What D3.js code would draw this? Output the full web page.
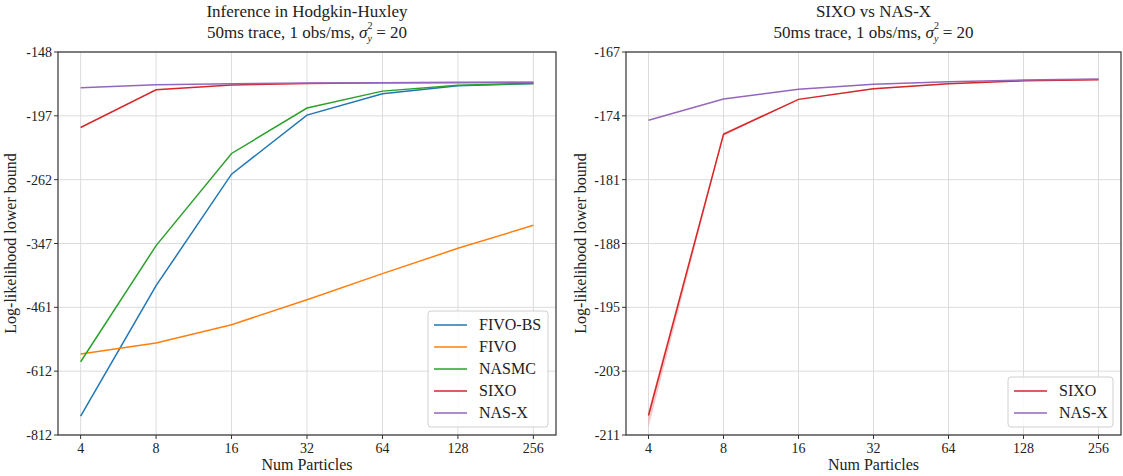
<!DOCTYPE html>
<html>
<head>
<meta charset="utf-8">
<script src="https://cdn.jsdelivr.net/npm/d3@7"></script>
<style>
  body { margin: 0; background: #fff; }
</style>
</head>
<body>
<div id="chart"></div>
<script>
// ---- data ----
const particles = [4, 8, 16, 32, 64, 128, 256];

// left panel: Inference in Hodgkin-Huxley
const fivoBS = [-747.4, -418.7, -255.3, -196.4, -178.6, -172.5, -170.7];
const fivo   = [-567.3, -540.2, -498.0, -445.7, -397.0, -354.8, -320.3];
const nasmc  = [-587.0, -350.6, -232.9, -190.4, -176.6, -172.1, -170.7];
const sixoL  = [-207.5, -175.5, -171.9, -170.7, -170.1, -169.9, -169.9];
const nasxL  = [-173.9, -171.6, -170.9, -170.4, -170.1, -169.9, -169.7];
const leftYTicks = ["-148", "-197", "-262", "-347", "-461", "-612", "-812"];

// right panel: SIXO vs NAS-X
const sixoR    = [-208.5, -175.6, -171.9, -170.78, -170.26, -169.97, -169.85];
const sixoRLo  = [-210.0, -175.75, -171.95, -170.83, -170.3, -170.0, -169.88];
const sixoRHi  = [-207.9, -175.45, -171.85, -170.73, -170.22, -169.94, -169.82];
const nasxR    = [-174.1, -171.86, -170.85, -170.33, -170.06, -169.88, -169.78];
const rightYTicks = ["-167", "-174", "-181", "-188", "-195", "-203", "-211"];

const colors = {
    "FIVO-BS": "#1f77b4", "FIVO": "#ff7f0e", "NASMC": "#2ca02c",
    "SIXO": "#d62728", "NAS-X": "#9467bd"
};

const FONT = "'Liberation Serif', 'DejaVu Serif', serif";

const width = 1123, height = 476;
const svg = d3.select("#chart").append("svg")
    .attr("width", width)
    .attr("height", height)
    .style("display", "block")
    .attr("font-family", FONT);

function drawPanel(opt) {
    let g = svg.append("g");
    let x0 = opt.left, x1 = opt.right, y0 = 52, y1 = 435;

    // x: log2 with 5% padding on each side
    let pad = Math.pow(2, 0.3);
    let x = d3.scaleLog().base(2)
        .domain([particles[0] / pad, particles[particles.length - 1] * pad])
        .range([x0, x1]);

    // y: log of the magnitude (bounds are negative)
    let y = d3.scaleLog().domain(opt.yDomain).range([y0, y1]);
    let yTickVals = opt.yTicks.map((t, i) =>
        opt.yDomain[0] * Math.pow(opt.yDomain[1] / opt.yDomain[0], i / (opt.yTicks.length - 1)));

    // grid
    g.selectAll(".vgrid").data(particles).enter().append("line")
        .attr("x1", d => x(d)).attr("x2", d => x(d))
        .attr("y1", y0).attr("y2", y1)
        .attr("stroke", "#dcdcdc").attr("stroke-width", 1);
    g.selectAll(".hgrid").data(yTickVals).enter().append("line")
        .attr("x1", x0).attr("x2", x1)
        .attr("y1", d => y(d)).attr("y2", d => y(d))
        .attr("stroke", "#dcdcdc").attr("stroke-width", 1);

    // band
    if (opt.band) {
        let area = d3.area()
            .x((d, i) => x(particles[i]))
            .y0((d, i) => y(-opt.band.lo[i]))
            .y1((d, i) => y(-opt.band.hi[i]));
        g.append("path").datum(opt.band.lo)
            .attr("d", area)
            .attr("fill", opt.band.color)
            .attr("opacity", 0.25);
    }

    // lines
    let line = d3.line()
        .x((d, i) => x(particles[i]))
        .y(d => y(-d));
    opt.series.forEach(s => {
        g.append("path").datum(s.values)
            .attr("d", line)
            .attr("fill", "none")
            .attr("stroke", colors[s.name])
            .attr("stroke-width", 1.5);
    });

    // frame
    g.append("rect")
        .attr("x", x0).attr("y", y0)
        .attr("width", x1 - x0).attr("height", y1 - y0)
        .attr("fill", "none").attr("stroke", "#333").attr("stroke-width", 1.2);

    // ticks
    g.selectAll(".xt").data(particles).enter().append("line")
        .attr("x1", d => x(d)).attr("x2", d => x(d))
        .attr("y1", y1).attr("y2", y1 + 4)
        .attr("stroke", "#333");
    g.selectAll(".xl").data(particles).enter().append("text")
        .attr("x", d => x(d)).attr("y", y1 + 18)
        .attr("text-anchor", "middle")
        .attr("font-size", 14)
        .attr("fill", "#222")
        .text(d => d);
    g.selectAll(".yt").data(yTickVals).enter().append("line")
        .attr("x1", x0 - 4).attr("x2", x0)
        .attr("y1", d => y(d)).attr("y2", d => y(d))
        .attr("stroke", "#333");
    g.selectAll(".yl").data(yTickVals).enter().append("text")
        .attr("x", x0 - 6).attr("y", d => y(d) + 5)
        .attr("text-anchor", "end")
        .attr("font-size", 14)
        .attr("fill", "#222")
        .text((d, i) => opt.yTicks[i]);

    // axis labels
    g.append("text")
        .attr("x", (x0 + x1) / 2).attr("y", 470)
        .attr("text-anchor", "middle")
        .attr("font-size", 16)
        .attr("fill", "#222")
        .text("Num Particles");
    g.append("text")
        .attr("transform", `translate(${opt.yLabelX}, ${(y0 + y1) / 2}) rotate(-90)`)
        .attr("text-anchor", "middle")
        .attr("font-size", 16)
        .attr("fill", "#222")
        .text("Log-likelihood lower bound");

    // title
    let cx = (x0 + x1) / 2;
    g.append("text")
        .attr("x", cx).attr("y", 17)
        .attr("text-anchor", "middle")
        .attr("font-size", 17)
        .attr("fill", "#222")
        .text(opt.title);
    let t2 = g.append("text")
        .attr("x", cx).attr("y", 38)
        .attr("text-anchor", "middle")
        .attr("font-size", 17)
        .attr("fill", "#222");
    t2.append("tspan").text("50ms trace, 1 obs/ms, ");
    t2.append("tspan").attr("font-style", "italic").text("σ");
    t2.append("tspan").attr("font-size", 10).attr("dy", -9).text("2");
    t2.append("tspan").attr("font-size", 10).attr("font-style", "italic")
        .attr("dx", -5).attr("dy", 13).text("y");
    t2.append("tspan").attr("dy", -4).text(" = 20");

    // legend
    let lg = g.append("g");
    let n = opt.series.length;
    let lw = opt.legendWidth, rowH = 22;
    let lx = x1 - 8 - lw, ly = y1 - 8 - (n * rowH + 6);
    lg.append("rect")
        .attr("x", lx).attr("y", ly)
        .attr("width", lw).attr("height", n * rowH + 6)
        .attr("rx", 3)
        .attr("fill", "#fff").attr("fill-opacity", 0.85)
        .attr("stroke", "#d0d0d0");
    opt.series.forEach((s, i) => {
        let ry = ly + 14 + i * rowH;
        lg.append("line")
            .attr("x1", lx + 6).attr("x2", lx + 39)
            .attr("y1", ry).attr("y2", ry)
            .attr("stroke", colors[s.name]).attr("stroke-width", 1.5);
        lg.append("text")
            .attr("x", lx + 51).attr("y", ry + 5)
            .attr("font-size", 16)
            .attr("fill", "#222")
            .text(s.name);
    });
}

drawPanel({
    left: 58, right: 556,
    yDomain: [148.45, 812.4],
    yTicks: leftYTicks,
    yLabelX: 16,
    title: "Inference in Hodgkin-Huxley",
    legendWidth: 120,
    series: [
        {name: "FIVO-BS", values: fivoBS},
        {name: "FIVO", values: fivo},
        {name: "NASMC", values: nasmc},
        {name: "SIXO", values: sixoL},
        {name: "NAS-X", values: nasxL}
    ]
});

drawPanel({
    left: 626, right: 1121,
    yDomain: [167, 211],
    yTicks: rightYTicks,
    yLabelX: 586,
    title: "SIXO vs NAS-X",
    legendWidth: 105,
    band: {lo: sixoRLo, hi: sixoRHi, color: "#d62728"},
    series: [
        {name: "SIXO", values: sixoR},
        {name: "NAS-X", values: nasxR}
    ]
});
</script>
</body>
</html>
